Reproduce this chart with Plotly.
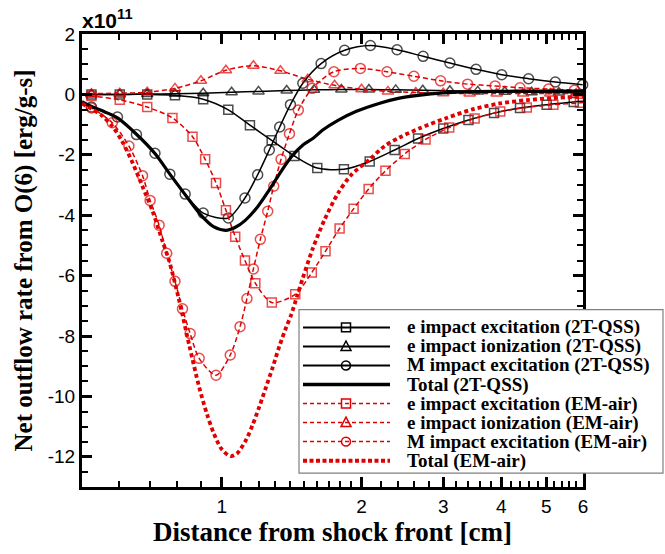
import math
import plotly.graph_objects as go

# ---------------- data (units of 1e11 erg/g-s) ----------------
x_exc_2t = [0.5, 0.524, 0.603, 0.691, 0.793, 0.912, 1.033, 1.15, 1.281, 1.434, 1.606, 1.833, 2.083, 2.358, 2.648, 3.0, 3.4, 3.86, 4.39, 5.01, 5.73, 6.0]
y_exc_2t = [0.0, 0.0, 0.0, 0.0, -0.03, -0.16, -0.51, -1.02, -1.52, -2.04, -2.44, -2.48, -2.22, -1.84, -1.46, -1.13, -0.85, -0.62, -0.45, -0.34, -0.25, -0.23]

x_ion_2t = [0.5, 0.524, 0.603, 0.691, 0.793, 0.912, 1.05, 1.2, 1.38, 1.58, 1.81, 2.075, 2.37, 2.71, 3.10, 3.56, 4.07, 4.65, 5.32, 6.0]
y_ion_2t = [0.0, 0.0, 0.0, 0.01, 0.02, 0.04, 0.07, 0.10, 0.13, 0.15, 0.16, 0.16, 0.15, 0.14, 0.12, 0.10, 0.09, 0.07, 0.06, 0.05]

x_m_2t = [0.5, 0.524, 0.596, 0.655, 0.718, 0.773, 0.834, 0.912, 1.033, 1.122, 1.195, 1.266, 1.333, 1.406, 1.495, 1.637, 1.839, 2.09, 2.386, 2.715, 3.10, 3.53, 4.01, 4.58, 5.23, 5.99]
y_m_2t = [-0.3, -0.42, -0.75, -1.33, -1.95, -2.64, -3.30, -3.93, -4.09, -3.43, -2.66, -1.84, -1.08, -0.34, 0.37, 1.02, 1.46, 1.62, 1.48, 1.26, 1.04, 0.83, 0.65, 0.52, 0.41, 0.32]

x_tot_2t = [0.5, 0.524, 0.56, 0.596, 0.655, 0.718, 0.773, 0.834, 0.90, 0.96, 1.02, 1.07, 1.122, 1.195, 1.266, 1.333, 1.41, 1.50, 1.571, 1.65, 1.78, 1.95, 2.19, 2.40, 2.65, 3.0, 3.5, 4.0, 4.6, 5.3, 6.0]
y_tot_2t = [-0.24, -0.40, -0.58, -0.78, -1.32, -1.96, -2.64, -3.32, -3.98, -4.38, -4.50, -4.40, -4.18, -3.72, -3.16, -2.62, -2.08, -1.66, -1.46, -1.18, -0.86, -0.56, -0.29, -0.13, -0.03, 0.05, 0.09, 0.10, 0.11, 0.11, 0.11]

x_exc_em = [0.5, 0.524, 0.603, 0.691, 0.783, 0.865, 0.921, 0.972, 1.021, 1.069, 1.122, 1.181, 1.282, 1.44, 1.563, 1.673, 1.794, 1.923, 2.072, 2.252, 2.479, 2.748, 3.09, 3.505, 3.98, 4.54, 5.18, 5.91, 6.0]
y_exc_em = [0.0, -0.05, -0.18, -0.42, -0.78, -1.40, -2.15, -2.93, -3.84, -4.71, -5.50, -6.25, -6.89, -6.62, -5.90, -5.19, -4.44, -3.79, -3.13, -2.53, -1.97, -1.49, -1.10, -0.80, -0.57, -0.43, -0.34, -0.28, -0.27]

x_ion_em = [0.5, 0.524, 0.603, 0.691, 0.793, 0.902, 1.021, 1.17, 1.338, 1.532, 1.75, 2.0, 2.28, 2.618, 3.0, 3.42, 3.91, 4.46, 5.10, 5.80, 6.0]
y_ion_em = [0.0, 0.02, 0.04, 0.07, 0.20, 0.45, 0.80, 0.95, 0.78, 0.50, 0.30, 0.17, 0.10, 0.06, 0.04, 0.03, 0.03, 0.03, 0.03, 0.03, 0.03]

x_m_em = [0.5, 0.524, 0.581, 0.631, 0.675, 0.701, 0.733, 0.761, 0.793, 0.823, 0.855, 0.894, 0.972, 1.043, 1.095, 1.133, 1.17, 1.211, 1.256, 1.294, 1.342, 1.399, 1.462, 1.566, 1.744, 1.989, 2.27, 2.593, 2.96, 3.385, 3.88, 4.39, 5.06, 5.75, 6.0]
y_m_em = [-0.32, -0.45, -0.94, -1.71, -2.69, -3.51, -4.33, -5.26, -6.19, -7.10, -7.92, -8.74, -9.30, -8.63, -7.69, -6.76, -5.78, -4.80, -3.87, -3.04, -2.15, -1.30, -0.52, 0.20, 0.75, 0.86, 0.75, 0.60, 0.45, 0.34, 0.28, 0.22, 0.18, 0.14, 0.13]

x_tot_em = [0.5, 0.524, 0.55, 0.581, 0.61, 0.642, 0.675, 0.709, 0.745, 0.770, 0.809, 0.851, 0.894, 0.93, 0.96, 1.0, 1.045, 1.08, 1.128, 1.165, 1.205, 1.245, 1.288, 1.33, 1.376, 1.411, 1.455, 1.495, 1.571, 1.665, 1.779, 1.902, 2.083, 2.244, 2.42, 2.67, 3.05, 3.48, 3.97, 4.54, 5.18, 6.0]
y_tot_em = [-0.30, -0.48, -0.68, -1.05, -1.55, -2.25, -3.05, -3.85, -4.85, -5.50, -6.80, -8.30, -9.69, -10.6, -11.2, -11.75, -11.98, -11.88, -11.44, -10.95, -10.34, -9.70, -9.03, -8.35, -7.72, -7.30, -6.65, -6.08, -5.10, -4.15, -3.28, -2.66, -2.15, -1.71, -1.42, -1.12, -0.78, -0.49, -0.30, -0.19, -0.12, -0.07]

legend_labels = [
    "e impact excitation (2T-QSS)",
    "e impact ionization (2T-QSS)",
    "M impact excitation (2T-QSS)",
    "Total (2T-QSS)",
    "e impact excitation (EM-air)",
    "e impact ionization (EM-air)",
    "M impact excitation (EM-air)",
    "Total (EM-air)",
]
x_tick_vals = [1, 2, 3, 4, 5, 6]
x_minor_vals = [0.6, 0.7, 0.8, 0.9, 1.1, 1.2, 1.3, 1.4, 1.5, 1.6, 1.7, 1.8, 1.9,
                2.2, 2.4, 2.6, 2.8, 3.2, 3.4, 3.6, 3.8, 4.2, 4.4, 4.6, 4.8, 5.2, 5.4, 5.6, 5.8]
y_tick_vals = [2, 0, -2, -4, -6, -8, -10, -12]

# ---------------- styling ----------------
W, H = 665, 554
ML, MR, MT, MB = 82, 82, 34, 63
RED = "#e00000"
BLK = "black"
SERIF = "Liberation Serif"
SANS = "Liberation Sans"


def msizes(xs, size):
    return [0 if (x <= 0.5 or x >= 6.0) else size for x in xs]


fig = go.Figure()

series = [
    (x_exc_2t, y_exc_2t, BLK, 1.5, "solid", "square-open", 9),
    (x_ion_2t, y_ion_2t, BLK, 1.5, "solid", "triangle-up-open", 10),
    (x_m_2t, y_m_2t, BLK, 1.5, "solid", "circle-open", 10),
    (x_exc_em, y_exc_em, RED, 1.5, "5px,3px", "square-open", 9),
    (x_ion_em, y_ion_em, RED, 1.5, "5px,3px", "triangle-up-open", 10),
    (x_m_em, y_m_em, RED, 1.5, "5px,3px", "circle-open", 10),
]
for xs, ys, col, lw, dash, sym, sz in series:
    fig.add_trace(go.Scatter(
        x=xs, y=ys, mode="lines+markers",
        line=dict(color=col, width=lw, dash=dash, shape="spline", smoothing=0.8),
        marker=dict(symbol=sym, size=msizes(xs, sz), color=col, line=dict(width=1.5, color=col)),
        cliponaxis=False, showlegend=False, hoverinfo="skip"))

fig.add_trace(go.Scatter(x=x_tot_2t, y=y_tot_2t, mode="lines",
                         line=dict(color=BLK, width=3.2, shape="spline", smoothing=0.8),
                         showlegend=False, hoverinfo="skip"))
fig.add_trace(go.Scatter(x=x_tot_em, y=y_tot_em, mode="lines",
                         line=dict(color=RED, width=3.8, dash="4px,3px", shape="spline", smoothing=0.8),
                         showlegend=False, hoverinfo="skip"))

# ---------------- axes ----------------
axis_common = dict(showline=True, linewidth=3, linecolor="black", mirror="ticks",
                   ticks="inside", ticklen=10, tickwidth=2.5, tickcolor="black",
                   showgrid=False, zeroline=False,
                   tickfont=dict(family=SANS, size=19, color="black"))
fig.update_xaxes(type="log", range=[math.log10(0.5), math.log10(6)],
                 tickmode="array", tickvals=x_tick_vals, ticktext=[str(v) for v in x_tick_vals],
                 minor=dict(tickmode="array", tickvals=x_minor_vals, ticks="inside", ticklen=6,
                            tickwidth=1.5, tickcolor="black"),
                 title=dict(text="<b>Distance from shock front [cm]</b>",
                            font=dict(family=SERIF, size=27, color="black"), standoff=6),
                 **axis_common)
fig.update_yaxes(range=[-13, 2], tickmode="array", tickvals=y_tick_vals,
                 ticktext=[str(v) for v in y_tick_vals],
                 minor=dict(dtick=0.5, ticks="inside", ticklen=6, tickwidth=1.5, tickcolor="black"),
                 title=dict(text="<b>Net outflow rate from O(6) [erg/g-s]</b>",
                            font=dict(family=SERIF, size=25, color="black"), standoff=8),
                 **axis_common)


# ---------------- manual legend (pixel helpers) ----------------
def PX(px):
    return (px - ML) / (W - ML - MR)


def PY(py):
    return (H - MB - py) / (H - MT - MB)


shapes = [dict(type="rect", xref="paper", yref="paper", x0=PX(299), x1=PX(663), y0=PY(477), y1=PY(312),
               line=dict(color="#808080", width=1.2), fillcolor="white", layer="above")]
annotations = []
row0, dy = 330, 19.2
styles = [
    (BLK, 2, "solid", "square"), (BLK, 2, "solid", "triangle"), (BLK, 2, "solid", "circle"),
    (BLK, 3.6, "solid", None),
    (RED, 1.5, "4px,3px", "square"), (RED, 1.5, "4px,3px", "triangle"), (RED, 1.5, "4px,3px", "circle"),
    (RED, 4, "4px,2.5px", None),
]
for i, (label, (col, lw, dash, mk)) in enumerate(zip(legend_labels, styles)):
    cy = row0 + i * dy
    shapes.append(dict(type="line", xref="paper", yref="paper", x0=PX(303), x1=PX(390),
                       y0=PY(cy), y1=PY(cy), line=dict(color=col, width=lw, dash=dash), layer="above"))
    mx, r = 346, 4.5
    if mk == "square":
        shapes.append(dict(type="rect", xref="paper", yref="paper", x0=PX(mx - r), x1=PX(mx + r),
                           y0=PY(cy + r), y1=PY(cy - r), line=dict(color=col, width=1.5), layer="above"))
    elif mk == "circle":
        shapes.append(dict(type="circle", xref="paper", yref="paper", x0=PX(mx - r), x1=PX(mx + r),
                           y0=PY(cy + r), y1=PY(cy - r), line=dict(color=col, width=1.5), layer="above"))
    elif mk == "triangle":
        path = "M {} {} L {} {} L {} {} Z".format(PX(mx - 5), PY(cy + 4), PX(mx + 5), PY(cy + 4), PX(mx), PY(cy - 5.5))
        shapes.append(dict(type="path", xref="paper", yref="paper", path=path,
                           line=dict(color=col, width=1.5), layer="above"))
    annotations.append(dict(xref="paper", yref="paper", x=PX(405), y=PY(cy), xanchor="left", yanchor="middle",
                            text="<b>" + label + "</b>", showarrow=False,
                            font=dict(family=SERIF, size=19, color="black")))

annotations.append(dict(xref="paper", yref="paper", x=PX(80), y=PY(19), xanchor="left", yanchor="middle",
                        text="<b>x10<sup>11</sup></b>", showarrow=False,
                        font=dict(family=SANS, size=21, color="black")))

fig.update_layout(width=W, height=H, margin=dict(l=ML, r=MR, t=MT, b=MB, pad=0),
                  paper_bgcolor="white", plot_bgcolor="white", showlegend=False,
                  shapes=shapes, annotations=annotations)

fig.write_html("out.html", config={"displayModeBar": False},
               post_script="document.body.style.margin='0px';document.body.style.overflow='hidden';")
